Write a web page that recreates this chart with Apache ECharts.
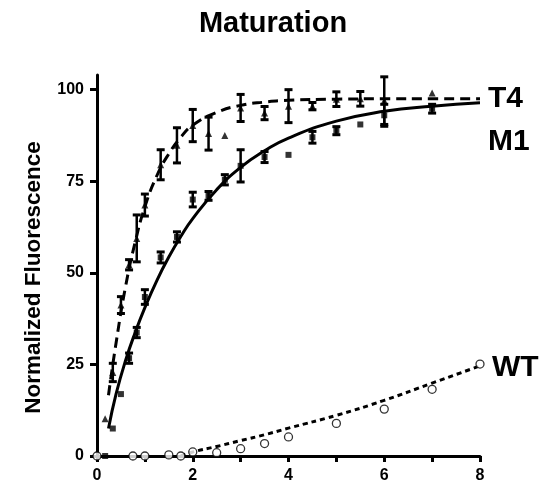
<!DOCTYPE html>
<html>
<head>
<meta charset="utf-8">
<script src="https://cdn.jsdelivr.net/npm/echarts@6/dist/echarts.min.js"></script>
<style>
html,body{margin:0;padding:0;background:#fff;}
#c{width:546px;height:486px;}
</style>
</head>
<body>
<div id="c"></div>
<script>
// ---- data ----
const t4X   = [0.17, 0.33, 0.5, 0.67, 0.83, 1, 1.33, 1.67, 2, 2.33, 2.67, 3, 3.5, 4, 4.5, 5, 5.5, 6, 7];
const t4Y   = [10.2, 22.8, 41.2, 52.2, 59.4, 68.5, 79.5, 84.8, 90.2, 88, 87.5, 95, 93.6, 95.5, 95.5, 97.4, 97.5, 97, 99.1];
const t4Err = [0, 2.5, 2.3, 1.4, 6.4, 3, 4.1, 4.8, 4.4, 4.5, 0, 3.7, 1.8, 4.5, 1, 2, 2, 6.5, 0];

const m1X   = [0.17, 0.33, 0.5, 0.67, 0.83, 1, 1.33, 1.67, 2, 2.33, 2.67, 3, 3.5, 4, 4.5, 5, 5.5, 6, 7];
const m1Y   = [0, 7.5, 16.9, 26.7, 33.7, 43.4, 54.2, 59.8, 70, 71, 75.4, 79.2, 81.6, 82.2, 87, 88.8, 90.5, 93, 94.8];
const m1Err = [0, 0, 0, 1.4, 1.4, 2, 1.5, 1.4, 2, 1.2, 1.4, 4.4, 1.5, 0, 1.6, 1.1, 0, 3, 1.2];

const wtX   = [0, 0.75, 1, 1.5, 1.75, 2, 2.5, 3, 3.5, 4, 5, 6, 7, 8];
const wtY   = [0, 0, 0, 0.3, 0, 1.1, 0.9, 2.0, 3.4, 5.2, 8.9, 12.8, 18.2, 25.1];

// fitted curves
const t4FitX = [0.24, 0.4, 0.6, 0.8, 1.0, 1.25, 1.5, 1.75, 2.0, 2.5, 3, 3.5, 4, 5, 6, 7, 8];
const t4FitY = [16.6, 31, 46.5, 58.5, 68, 76.5, 82.5, 87, 90.3, 93.8, 95.7, 96.6, 97.1, 97.4, 97.5, 97.5, 97.5];
const m1FitX = [0.24, 0.4, 0.6, 0.8, 1.0, 1.25, 1.5, 1.75, 2.0, 2.5, 3, 3.5, 4, 5, 6, 7, 8];
const m1FitY = [7.5, 17, 26.2, 33.8, 40.5, 47.9, 54.3, 59.9, 64.8, 72.7, 78.8, 83.3, 86.8, 91.4, 94.1, 95.5, 96.4];
const wtFitX = [1.75, 2, 2.5, 3, 3.5, 4, 5, 6, 7, 8];
const wtFitY = [0, 1.1, 2.6, 4.2, 5.8, 7.6, 11.1, 15.2, 19.9, 24.6];

const xLabels = [0, 2, 4, 6, 8];
const xTicks  = [0, 1, 2, 3, 4, 5, 6, 7, 8];
const yTicks  = [0, 25, 50, 75, 100];

const chartTitle = 'Maturation';
const yName = 'Normalized Fluorescence';
const seriesNames = ['T4', 'M1', 'WT'];

// ---- build ----
const zip = (xs, ys) => xs.map((x, i) => [x, ys[i]]);
const errData = (xs, ys, es) => xs.map((x, i) => [x, ys[i] - es[i], ys[i] + es[i]]).filter((d, i) => es[i] > 0);

const FONT = '"Liberation Sans", Arial, sans-serif';

function renderErr(params, api) {
  const x = api.value(0), lo = api.value(1), hi = api.value(2);
  const p1 = api.coord([x, hi]);
  const p2 = api.coord([x, lo]);
  const w = 4;
  return {
    type: 'group',
    children: [
      { type: 'line', shape: { x1: p1[0], y1: p1[1], x2: p2[0], y2: p2[1] }, style: { stroke: '#000', lineWidth: 2.5 } },
      { type: 'line', shape: { x1: p1[0] - w, y1: p1[1], x2: p1[0] + w, y2: p1[1] }, style: { stroke: '#000', lineWidth: 3 } },
      { type: 'line', shape: { x1: p2[0] - w, y1: p2[1], x2: p2[0] + w, y2: p2[1] }, style: { stroke: '#000', lineWidth: 3 } }
    ]
  };
}

const endLbl = (txt, off) => ({
  show: true, formatter: txt, color: '#000', fontFamily: FONT, fontWeight: 'bold', fontSize: 30,
  distance: 8, offset: off
});

const chart = echarts.init(document.getElementById('c'), null, { renderer: 'canvas' });
chart.setOption({
  animation: false,
  backgroundColor: '#fff',
  title: {
    text: chartTitle, left: 'center', top: 4,
    textStyle: { fontFamily: FONT, fontWeight: 'bold', fontSize: 29, color: '#000' }
  },
  grid: { left: 97, right: 66, top: 75, bottom: 30, containLabel: false },
  xAxis: {
    type: 'value', min: 0, max: 8, interval: 1,
    axisLine: { lineStyle: { color: '#000', width: 3 } },
    axisTick: { length: 6, lineStyle: { color: '#000', width: 3 }, customValues: xTicks },
    axisLabel: { customValues: xLabels, color: '#000', fontFamily: FONT, fontWeight: 'bold', fontSize: 16, margin: 12 },
    splitLine: { show: false }
  },
  yAxis: {
    type: 'value', min: 0, max: 104, interval: 25,
    name: yName, nameLocation: 'middle', nameGap: 52, nameRotate: 90,
    nameTextStyle: { fontFamily: FONT, fontWeight: 'bold', fontSize: 22.5, color: '#000', padding: [0, 24, 0, 0] },
    axisLine: { lineStyle: { color: '#000', width: 3 } },
    axisTick: { length: 7, lineStyle: { color: '#000', width: 3 }, customValues: yTicks },
    axisLabel: { customValues: yTicks, color: '#000', fontFamily: FONT, fontWeight: 'bold', fontSize: 16, margin: 13 },
    splitLine: { show: false }
  },
  series: [
    { type: 'line', data: zip(t4FitX, t4FitY), smooth: true, symbol: 'none',
      lineStyle: { color: '#000', width: 3, type: [10, 6] }, endLabel: endLbl(seriesNames[0], [0, 0]), z: 2 },
    { type: 'line', data: zip(m1FitX, m1FitY), smooth: true, symbol: 'none',
      lineStyle: { color: '#000', width: 3, type: 'solid' }, endLabel: endLbl(seriesNames[1], [0, 39]), z: 2 },
    { type: 'line', data: zip(wtFitX, wtFitY), smooth: true, symbol: 'none',
      lineStyle: { color: '#000', width: 3, type: [5, 4] }, endLabel: endLbl(seriesNames[2], [4, 2]), z: 2 },
    { type: 'custom', renderItem: renderErr, data: errData(t4X, t4Y, t4Err), z: 3 },
    { type: 'custom', renderItem: renderErr, data: errData(m1X, m1Y, m1Err), z: 3 },
    { type: 'scatter', data: zip(t4X, t4Y), symbol: 'triangle', symbolSize: 7,
      itemStyle: { color: '#000' }, z: 4 },
    { type: 'scatter', data: zip(m1X, m1Y), symbol: 'rect', symbolSize: 6,
      itemStyle: { color: '#000' }, z: 4 },
    { type: 'scatter', data: zip(wtX, wtY), symbol: 'circle', symbolSize: 8,
      itemStyle: { color: '#fff', borderColor: '#000', borderWidth: 1.3 }, z: 4 }
  ]
});
</script>
</body>
</html>
